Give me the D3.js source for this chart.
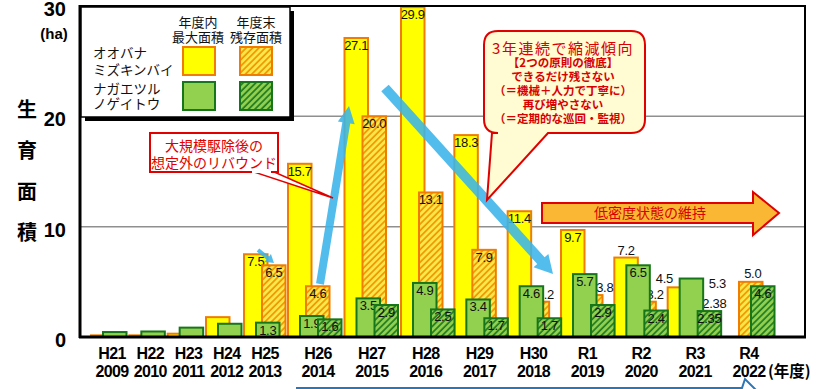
<!DOCTYPE html>
<html><head><meta charset="utf-8">
<script src="https://cdn.jsdelivr.net/npm/d3@7"></script>
<style>body{margin:0;background:#fff;} svg{display:block}</style>
</head><body><svg id="c" width="817" height="389"></svg>
<script>
// ---------- data ----------
const categories = ["H21","H22","H23","H24","H25","H26","H27","H28","H29","H30","R1","R2","R3","R4"];
const years = ["2009","2010","2011","2012","2013","2014","2015","2016","2017","2018","2019","2020","2021","2022"];
const oobanaMax    = [0.15,0.15,0.3,1.8,7.5,15.7,27.1,29.9,18.3,11.4,9.7,7.2,4.5,null];
const oobanaRemain = [null,null,null,null,6.5,4.6,20.0,13.1,7.9,3.2,3.8,3.2,2.38,5.0];
const nagaeMax     = [0.45,0.5,0.85,1.2,1.3,1.9,3.5,4.9,3.4,4.6,5.7,6.5,5.3,null];
const nagaeRemain  = [null,null,null,null,null,1.6,2.9,2.5,1.7,1.7,2.9,2.4,2.35,4.6];
const yTicks = [0,10,20,30];
const labeledFrom = "H25";

// ---------- layout ----------
const svg = d3.select("#c");
const JP = "'Noto Sans CJK JP','Noto Sans',sans-serif";
const NUM = "'Liberation Sans',Arial,sans-serif";
const y = d3.scaleLinear().domain([0,30]).range([337,6]);
const xBar = d3.scaleLinear().domain([0,3,4,5,7,13]).range([91,206,244,288,401,721]);
const xLab = d3.scaleLinear().domain([0,4,5,13]).range([112,265,318,749]);
const bw = 23.5;
const firstLabeled = categories.indexOf(labeledFrom);

const defs = svg.append("defs");
function hatch(id, bg, fg){
  const p = defs.append("pattern").attr("id",id).attr("patternUnits","userSpaceOnUse")
    .attr("width",4.5).attr("height",4.5).attr("patternTransform","rotate(45)");
  p.append("rect").attr("width",4.5).attr("height",4.5).attr("fill",bg);
  p.append("line").attr("x1",1).attr("y1",0).attr("x2",1).attr("y2",4.5).attr("stroke",fg).attr("stroke-width",1.7);
}
hatch("hatchO","#FFE84A","#EE9500");
hatch("hatchG","#92D050","#1F7A1F");

// gridlines
svg.append("g").selectAll("line").data([10,20]).join("line")
  .attr("x1",80).attr("x2",805).attr("y1",d=>y(d)).attr("y2",d=>y(d))
  .attr("stroke","#8f8f8f").attr("stroke-width",1.5);

const series = [
  {vals: oobanaMax, off:0, fill:"#FFFF00", stroke:"#F07D00"},
  {vals: oobanaRemain, off:18, fill:"url(#hatchO)", stroke:"#F07D00"},
  {vals: nagaeMax, off:12, fill:"#92D050", stroke:"#17761A"},
  {vals: nagaeRemain, off:30, fill:"url(#hatchG)", stroke:"#17761A"}
];
// label nudges: "series-index" -> [dx, baseline offset from bar top]
const nudge = {"1-9":[8,-3],"1-10":[14,-3],"0-11":[0,-3],"1-11":[11,-3],
  "0-12":[-15,-4],"2-12":[26,9],"1-12":[17,-3],"1-13":[2,-4]};
const fmt = v => (Math.abs(v*10-Math.round(v*10))<1e-9) ? v.toFixed(1) : String(v);

series.forEach((s,si)=>{
  const data = s.vals.map((v,i)=>({v,i})).filter(d=>d.v!=null);
  const g = svg.append("g");
  g.selectAll("rect").data(data).join("rect")
    .attr("x",d=>xBar(d.i)+s.off).attr("width",bw)
    .attr("y",d=>y(d.v)).attr("height",d=>y(0)-y(d.v))
    .attr("fill",s.fill).attr("stroke",s.stroke).attr("stroke-width",2);
  g.selectAll("text").data(data.filter(d=>d.i>=firstLabeled)).join("text")
    .attr("x",d=>xBar(d.i)+s.off+bw/2+((nudge[si+"-"+d.i]||[0,0])[0]))
    .attr("y",d=>y(d.v)+((nudge[si+"-"+d.i]||[0,12])[1]))
    .attr("text-anchor","middle").attr("font-family",NUM).attr("font-size",13)
    .attr("letter-spacing",-0.3).attr("fill","#111").text(d=>fmt(d.v));
});

// frame
svg.append("rect").attr("x",80).attr("y",6).attr("width",725).attr("height",331)
  .attr("fill","none").attr("stroke","#000").attr("stroke-width",2);
svg.append("line").attr("x1",80).attr("x2",80).attr("y1",5).attr("y2",338).attr("stroke","#000").attr("stroke-width",3);
svg.append("line").attr("x1",79).attr("x2",806).attr("y1",337).attr("y2",337).attr("stroke","#000").attr("stroke-width",3);

// y tick labels
svg.append("g").selectAll("text").data(yTicks).join("text")
  .attr("x",66).attr("y",d=>y(d)+10).attr("text-anchor","end")
  .attr("font-family",NUM).attr("font-size",20).attr("font-weight","bold").text(d=>d);
svg.append("text").attr("x",54).attr("y",39).attr("text-anchor","middle")
  .attr("font-family",NUM).attr("font-size",15).attr("font-weight","bold").text("(ha)");
["生","育","面","積"].forEach((c,i)=>{
  svg.append("text").attr("x",27).attr("y",117+i*41).attr("text-anchor","middle")
    .attr("font-family",JP).attr("font-size",20).attr("font-weight","bold").text(c);
});

// x labels
const xl = svg.append("g").attr("font-family",NUM).attr("font-size",16).attr("font-weight","bold")
  .attr("text-anchor","middle").attr("letter-spacing",-0.6);
xl.selectAll("text.c").data(categories).join("text").attr("class","c")
  .attr("x",(d,i)=>xLab(i)).attr("y",359).text(d=>d);
xl.selectAll("text.yr").data(years).join("text").attr("class","yr")
  .attr("x",(d,i)=>xLab(i)).attr("y",377).text(d=>d);
svg.append("text").attr("x",768).attr("y",377).attr("font-family",JP).attr("font-size",15.5)
  .attr("font-weight","bold").text("(年度)");

// legend
svg.append("rect").attr("x",85).attr("y",11).attr("width",209).attr("height",110).attr("fill","#000");
svg.append("rect").attr("x",81).attr("y",7).attr("width",209).attr("height",110)
  .attr("fill","#fff").attr("stroke","#000").attr("stroke-width",1.5);
const lg = svg.append("g").attr("font-family",JP).attr("font-size",13).attr("fill","#111");
[["年度内","最大面積",198],["年度末","残存面積",256]].forEach(h=>{
  lg.append("text").attr("x",h[2]).attr("y",27).attr("text-anchor","middle").text(h[0]);
  lg.append("text").attr("x",h[2]).attr("y",42).attr("text-anchor","middle").text(h[1]);
});
[["オオバナ",58],["ミズキンバイ",75],["ナガエツル",94],["ノゲイトウ",109]].forEach(t=>{
  lg.append("text").attr("x",93).attr("y",t[1]).attr("font-size",13.5).text(t[0]);
});
[[183,47,"#FFFF00","#F07D00"],[240,47,"url(#hatchO)","#F07D00"],
 [183,82,"#92D050","#17761A"],[240,82,"url(#hatchG)","#17761A"]].forEach(s=>{
  svg.append("rect").attr("x",s[0]).attr("y",s[1]).attr("width",32).attr("height",28)
    .attr("fill",s[2]).attr("stroke",s[3]).attr("stroke-width",2);
});

// blue arrows
function arrow(x1,y1,x2,y2,w,hw,hl){
  const dx=x2-x1, dy=y2-y1, L=Math.hypot(dx,dy), ux=dx/L, uy=dy/L, px=-uy, py=ux;
  const bx=x2-ux*hl, by=y2-uy*hl;
  const pts=[[x1+px*w/2,y1+py*w/2],[bx+px*w/2,by+py*w/2],[bx+px*hw/2,by+py*hw/2],[x2,y2],
    [bx-px*hw/2,by-py*hw/2],[bx-px*w/2,by-py*w/2],[x1-px*w/2,y1-py*w/2]];
  return "M"+pts.map(p=>p.join(",")).join("L")+"Z";
}
const blue = svg.append("g").attr("fill","#3BB5EA").attr("opacity",0.88);
blue.append("path").attr("d",arrow(320,284,349,106,8,17,17));
blue.append("path").attr("d",arrow(385,88,553,274,10,20,18));
blue.append("path").attr("d",arrow(258,250,274,263,4,10,8));

// red callout 1
svg.append("path").attr("d","M251,171 L333,198 L272,171Z").attr("fill","#fff").attr("stroke","#E00000").attr("stroke-width",1.5);
svg.append("rect").attr("x",150).attr("y",133).attr("width",128).attr("height",39)
  .attr("fill","#fff").attr("stroke","#E00000").attr("stroke-width",2);
svg.append("line").attr("x1",252).attr("x2",271).attr("y1",172).attr("y2",172).attr("stroke","#fff").attr("stroke-width",2);
const c1 = svg.append("g").attr("font-family",JP).attr("font-size",14).attr("fill","#E00000").attr("text-anchor","middle");
c1.append("text").attr("x",214).attr("y",151).text("大規模駆除後の");
c1.append("text").attr("x",214).attr("y",168).text("想定外のリバウンド");

// big speech bubble
const r=14, bx0=484, by0=31, bx1=645, by1=133;
const bubble = `M${bx0+r},${by0} H${bx1-r} Q${bx1},${by0} ${bx1},${by0+r} V${by1-r} Q${bx1},${by1} ${bx1-r},${by1}
 H548 L487,200 L492,${by1} H${bx0+r} Q${bx0},${by1} ${bx0},${by1-r} V${by0+r} Q${bx0},${by0} ${bx0+r},${by0}Z`;
svg.append("path").attr("d",bubble).attr("fill","#FFFBD2").attr("stroke","#E00000").attr("stroke-width",2);
const c2 = svg.append("g").attr("font-family",JP).attr("fill","#D80000").attr("text-anchor","middle");
c2.append("text").attr("x",563).attr("y",54).attr("font-size",15).attr("letter-spacing",1.5).text("3年連続で縮減傾向");
["【2つの原則の徹底】","できるだけ残さない","（＝機械＋人力で丁寧に）","再び増やさない","（＝定期的な巡回・監視）"]
  .forEach((t,i)=>c2.append("text").attr("x",563).attr("y",67+i*14).attr("font-size",11.5).attr("font-weight","bold").text(t));

// orange arrow
svg.append("path").attr("d","M542,203 H753 V192 L779,213 L753,235 V223 H542Z")
  .attr("fill","#FAB733").attr("stroke","#E00000").attr("stroke-width",2);
svg.append("text").attr("x",650).attr("y",218).attr("text-anchor","middle").attr("font-family",JP)
  .attr("font-size",14).attr("fill","#D80000").text("低密度状態の維持");

// bottom blue callout edge
svg.append("path").attr("d","M297,392 V388 H742 L745,379 L757,391").attr("fill","none")
  .attr("stroke","#2E75B6").attr("stroke-width",2);
</script></body></html>
